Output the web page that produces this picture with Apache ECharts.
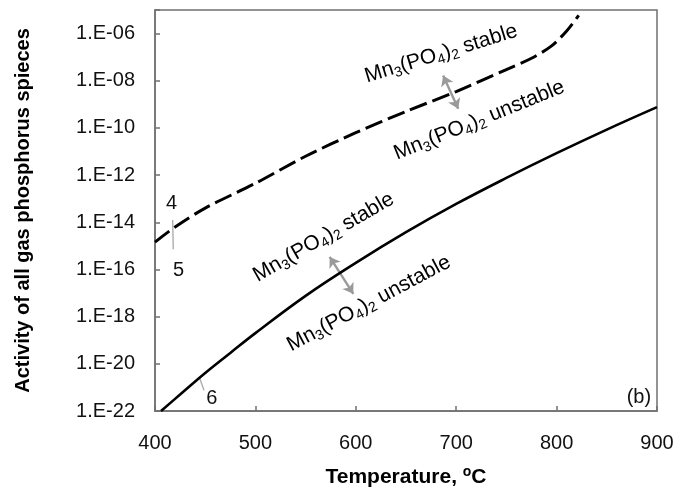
<!DOCTYPE html>
<html>
<head>
<meta charset="utf-8">
<title>Activity of gas phosphorus species</title>
<script src="https://cdn.jsdelivr.net/npm/echarts@6/dist/echarts.min.js"></script>
<style>
    html, body {margin: 0; padding: 0; background: #fff;}
    #main {width: 679px; height: 492px;}
</style>
</head>
<body>
<div id="main"></div>
<script>
// curve 5/6 (solid) and curve 4 (dashed)
var tempSolid = [406, 425, 450, 475, 500, 550, 600, 650, 700, 750, 800, 850, 900];
var activitySolid = [1.0e-22, 5.0e-22, 4.1e-21, 2.9e-20, 2.0e-19, 7.6e-18, 1.9e-16, 3.8e-15, 6.0e-14, 7.6e-13, 8.5e-12, 8.5e-11, 7.6e-10];

var tempDashed = [400, 420, 450, 500, 550, 600, 650, 700, 750, 775, 795, 810, 822];
var activityDashed = [1.45e-15, 6.3e-15, 4.0e-14, 4.5e-13, 6.3e-12, 6.3e-11, 5.0e-10, 3.5e-9, 3.0e-8, 9.0e-8, 3.0e-7, 1.3e-6, 5.9e-6];

var xTicks = [400, 500, 600, 700, 800, 900];
var yTickLabels = ['1.E-22', '1.E-20', '1.E-18', '1.E-16', '1.E-14', '1.E-12', '1.E-10', '1.E-08', '1.E-06'];

var stableTxt = '{n|Mn}{s|3}{n|(PO}{s|4}{n|)}{s|2}{n| stable}';
var unstableTxt = '{n|Mn}{s|3}{n|(PO}{s|4}{n|)}{s|2}{n| unstable}';

// annotations (data coordinates: temperature, activity)
var notes = [
    {value: [685, 1.4e-7], text: stableTxt, rotate: 17},
    {value: [723, 2.1e-10], text: unstableTxt, rotate: 22},
    {value: [568, 2.3e-15], text: stableTxt, rotate: 30},
    {value: [613, 3.6e-18], text: unstableTxt, rotate: 28},
    {value: [416.5, 6.2e-14], text: '{m|4}', rotate: 0},
    {value: [423.5, 9.1e-17], text: '{m|5}', rotate: 0},
    {value: [456.5, 3.4e-22], text: '{m|6}', rotate: 0},
    {value: [882, 3.9e-22], text: '{m|(b)}', rotate: 0}
];
var arrows = [
    [[687, 1.66e-8], [702, 6.5e-10]],
    [[574, 3.4e-16], [597.5, 9.3e-18]]
];
var markers = [
    [[417.6, 1.26e-14], [418.2, 7.2e-16]],
    [[444.1, 2.75e-21], [448.8, 7.6e-22]]
];

// y axis is drawn on log10(activity)
function lg(p) {
    return [p[0], Math.log10(p[1])];
}
function zip(xs, ys) {
    return xs.map(function (x, i) { return lg([x, ys[i]]); });
}

var FONT = 'Liberation Sans';
var richStyle = {
    n: {fontSize: 21, lineHeight: 25, color: '#000', verticalAlign: 'middle', fontFamily: FONT},
    s: {fontSize: 14, lineHeight: 14, color: '#000', verticalAlign: 'bottom', fontFamily: FONT},
    m: {fontSize: 20, color: '#111', fontFamily: FONT}
};

var myChart = echarts.init(document.getElementById('main'));
myChart.setOption({
    animation: false,
    backgroundColor: '#fff',
    grid: {
        left: 155, right: 22, top: 10, bottom: 81,
        outerBoundsMode: 'none',
        containLabel: false,
        show: true, borderColor: '#707070', borderWidth: 1.5
    },
    xAxis: {
        type: 'value',
        min: xTicks[0],
        max: xTicks[xTicks.length - 1],
        interval: 100,
        name: 'Temperature, {sup|o}C',
        nameLocation: 'middle',
        nameGap: 54,
        nameTextStyle: {
            fontSize: 21, fontWeight: 'bold', color: '#000', fontFamily: FONT, lineHeight: 25,
            rich: {sup: {fontSize: 14, fontWeight: 'bold', color: '#000', verticalAlign: 'top', lineHeight: 14, fontFamily: FONT}}
        },
        axisLine: {lineStyle: {color: '#707070', width: 1.5}},
        axisTick: {inside: true, length: 5, lineStyle: {color: '#707070', width: 1.5}},
        axisLabel: {fontSize: 20, color: '#111', margin: 22, fontFamily: FONT},
        splitLine: {show: false}
    },
    yAxis: {
        type: 'value',
        min: -22,
        max: -5,
        interval: 2,
        name: 'Activity of all gas phosphorus spieces',
        nameLocation: 'middle',
        nameGap: 122,
        nameTextStyle: {fontSize: 20, fontWeight: 'bold', color: '#000', fontFamily: FONT},
        axisLine: {lineStyle: {color: '#707070', width: 1.5}},
        axisTick: {inside: true, length: 5, lineStyle: {color: '#707070', width: 1.5}},
        axisLabel: {
            fontSize: 20, color: '#111', margin: 20, fontFamily: FONT,
            formatter: function (v) {
                var e = Math.round(v);
                if (e % 2 !== 0) return '';
                return yTickLabels[(e + 22) / 2] || '';
            }
        },
        splitLine: {show: false}
    },
    series: [
        {
            name: 'solid',
            type: 'line',
            data: zip(tempSolid, activitySolid),
            showSymbol: false,
            smooth: 0.4,
            clip: true,
            lineStyle: {color: '#000', width: 2.6}
        },
        {
            name: 'dashed',
            type: 'line',
            data: zip(tempDashed, activityDashed),
            showSymbol: false,
            smooth: 0.3,
            clip: true,
            lineStyle: {color: '#000', width: 3, type: [18, 6]}
        },
        {
            name: 'arrows',
            type: 'lines',
            coordinateSystem: 'cartesian2d',
            symbol: ['arrow', 'arrow'],
            symbolSize: 10,
            lineStyle: {color: '#9a9a9a', width: 2.4, opacity: 1},
            data: arrows.map(function (c) { return {coords: c.map(lg)}; })
        },
        {
            name: 'markers',
            type: 'lines',
            coordinateSystem: 'cartesian2d',
            symbol: 'none',
            lineStyle: {color: '#a8a8a8', width: 1.3, opacity: 1},
            data: markers.map(function (c) { return {coords: c.map(lg)}; })
        },
        {
            name: 'notes',
            type: 'scatter',
            symbolSize: 0.1,
            itemStyle: {color: '#fff', opacity: 0},
            label: {show: true, color: '#000', opacity: 1, textBorderWidth: 0},
            emphasis: {disabled: true},
            data: notes.map(function (n) {
                return {
                    value: lg(n.value),
                    label: {
                        show: true,
                        position: 'inside',
                        color: '#000',
                        opacity: 1,
                        textBorderWidth: 0,
                        rotate: n.rotate,
                        formatter: n.text,
                        rich: richStyle
                    }
                };
            })
        }
    ]
});
</script>
</body>
</html>
